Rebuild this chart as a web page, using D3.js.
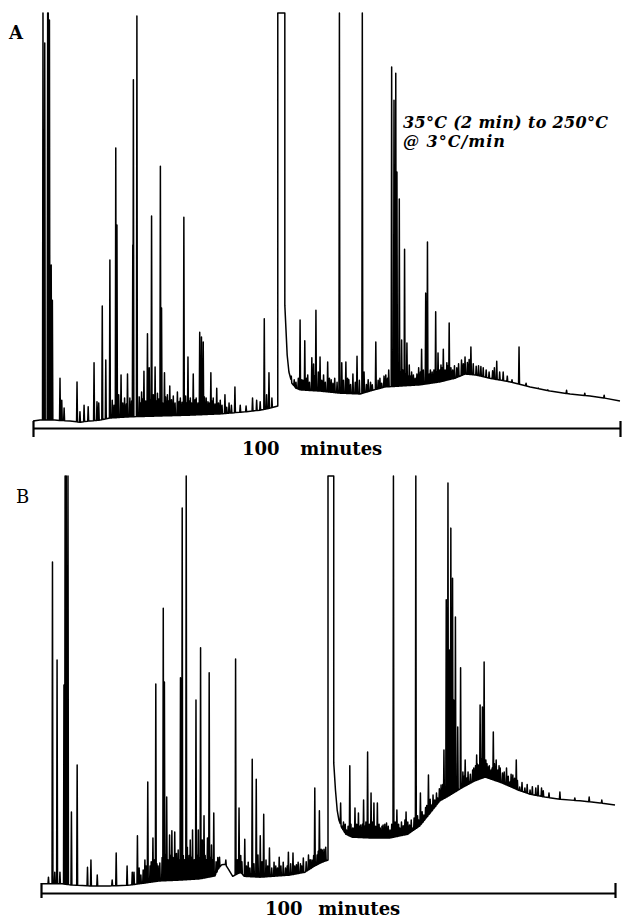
<!DOCTYPE html>
<html><head><meta charset="utf-8">
<script src="https://cdn.jsdelivr.net/npm/d3@7"></script>
<style>html,body{margin:0;padding:0;background:#fff}</style>
</head><body>
<svg id="chart" width="622" height="920"></svg>
<script>
// ---- data ----
const timeRange = [0, 100];          // minutes
const signalRange = [0, 100];        // % full scale
const axisTicks = [0, 100];
const axisLabel = ["100", "minutes"];
const panelLabels = ["A", "B"];
const tempProgram = ["35°C (2 min) to 250°C", "@ 3°C/min"];

// panel A : baseline [time, signal]
const baselineA = [
[0,1.7],[1.2,1.9],[3.7,1.9],[6.3,1.7],[8.0,1.4],[9.7,1.7],[11.4,1.9],[13.1,2.4],[16.5,2.7],[21.6,2.9],[26.7,3.1],[31.9,3.4],[36.1,3.9],[38.7,4.3],[40.4,4.8],[41.7,5.3],
[42.9,29.6],[43.1,23.6],[43.3,17.6],[43.6,13.5],[44.1,10.8],[44.8,9.6],[45.5,9.2],[48.9,8.9],[52.3,8.4],[55.7,8.2],[57.4,8.9],[60.0,9.9],[62.5,10.1],[65.9,10.4],[69.3,11.1],[71.9,12.0],[73.6,13.0],[75.3,12.8],[77.8,12.0],[81.3,11.1],[84.7,9.9],[88.1,8.9],[91.5,8.2],[94.9,7.7],[97.4,7.2],[100,6.5]
];
// panel A : peaks [retention time, signal at apex]
const peaksA = [
[1.7,100],[2.0,92.8],[2.5,100],[2.6,100],[2.8,98.3],[3.1,39.3],[3.3,30.8],[4.6,12.0],[4.9,6.7],[5.3,4.8],[7.5,11.1],[8.0,3.9],[8.7,5.5],[9.4,5.1],[10.4,15.7],[10.9,6.3],[11.2,6.0],[11.8,29.4],[12.4,16.4],[13.1,40.5],[13.5,6.7],[13.8,5.5],[14.1,67.5],[14.3,48.9],[14.6,8.0],[15.0,12.8],[15.3,6.0],[15.6,7.2],[15.9,5.8],[16.1,13.0],[16.5,7.2],[16.8,6.5],[17.0,44.1],[17.1,83.9],[17.7,99.3],[18.1,7.5],[18.3,6.0],[18.5,8.7],[18.7,7.0],[18.9,13.7],[19.2,6.5],[19.5,22.7],[19.8,14.5],[20.0,6.8],[20.2,51.1],[20.5,8.0],[20.8,14.7],[21.0,6.5],[21.2,8.4],[21.4,7.0],[21.7,63.1],[21.9,28.9],[22.1,6.0],[22.4,13.3],[22.6,7.5],[22.9,8.0],[23.1,6.5],[23.3,10.1],[23.6,6.8],[23.9,7.7],[24.2,6.0],[24.6,8.7],[24.9,6.4],[25.1,7.2],[25.4,6.2],[25.7,50.8],[26.0,7.7],[26.2,6.0],[26.4,17.1],[26.6,6.5],[26.8,7.2],[27.0,6.0],[27.3,13.0],[27.6,6.8],[27.8,7.2],[28.1,6.0],[28.4,23.1],[28.7,21.9],[29.0,20.7],[29.2,7.5],[29.5,7.2],[29.8,6.3],[30.0,6.0],[30.3,13.3],[30.5,6.5],[30.7,7.2],[31.0,5.8],[31.3,9.6],[31.6,6.0],[31.9,6.7],[32.2,5.5],[32.7,8.0],[33.0,5.0],[33.4,6.0],[33.8,5.5],[34.4,9.9],[35.3,5.5],[36.3,5.3],[37.4,7.2],[38.1,6.7],[38.7,6.3],[39.4,26.3],[39.8,8.0],[40.2,13.3],[40.7,7.2],
[44.0,12.5],[44.5,11.6],[44.8,11.0],[45.2,12.0],[45.5,26.0],[45.8,11.6],[46.0,11.5],[46.3,21.0],[46.6,12.0],[46.8,12.8],[47.1,11.0],[47.5,16.9],[47.8,15.4],[48.0,12.5],[48.2,28.4],[48.6,13.5],[48.9,17.1],[49.2,11.5],[49.5,12.8],[49.8,11.0],[50.2,15.9],[50.5,12.0],[50.8,11.6],[51.1,10.8],[51.4,12.0],[51.8,11.0],[52.2,100],[52.6,15.7],[52.9,11.5],[53.3,15.9],[53.6,12.0],[53.8,11.6],[54.1,10.5],[54.5,13.0],[54.9,11.0],[55.2,17.3],[55.6,11.5],[56.1,100],[56.4,13.5],[56.8,10.5],[57.1,11.6],[57.5,11.0],[57.8,10.4],[58.4,20.7],[58.8,11.5],[59.1,12.0],[59.4,10.8],[59.8,12.5],[60.1,12.8],[60.4,12.0],[60.6,14.0],[61.1,87.0],[61.3,14.0],[61.5,79.0],[61.8,85.5],[61.9,15.0],[62.0,61.7],[62.2,14.5],[62.4,55.2],[62.6,13.5],[62.8,21.2],[63.0,14.0],[63.3,43.1],[63.5,13.0],[63.7,20.5],[63.9,12.5],[64.1,15.2],[64.3,12.5],[64.5,13.5],[64.8,12.8],[65.1,12.0],[65.4,13.0],[65.7,14.5],[66.0,13.5],[66.2,19.0],[66.5,14.0],[66.9,32.5],[67.0,14.5],[67.2,44.8],[67.5,13.0],[67.7,14.0],[68.0,13.5],[68.3,14.0],[68.6,28.0],[68.8,13.5],[69.0,18.1],[69.3,14.0],[69.5,15.2],[69.7,14.5],[69.9,19.0],[70.2,14.0],[70.5,15.7],[70.7,15.0],[70.9,25.3],[71.2,14.5],[71.5,14.0],[71.8,15.0],[72.2,14.5],[72.5,15.5],[73.0,16.4],[73.3,15.5],[73.6,17.1],[74.0,15.8],[74.3,16.5],[74.6,19.5],[75.0,15.5],[75.5,14.9],[75.9,15.0],[76.3,14.8],[76.7,14.5],[77.2,14.0],[77.7,13.5],[78.3,13.8],[78.6,14.5],[79.0,16.1],[79.5,13.5],[80.1,13.5],[80.8,12.5],[81.6,11.6],[82.8,19.5],[84.0,10.8],[86.1,9.6],[87.7,9.2],[90.9,9.1],[94.0,8.4],[97.3,7.9]
];
// solvent peak (off scale, flat topped): [start, end]
const solventA = [41.7, 42.9];

// panel B
const baselineB = [
[0,2.2],[1.6,2.2],[3.7,2.2],[5.4,1.9],[8.5,1.7],[12.0,1.7],[15.5,1.9],[18.1,2.4],[20.7,2.9],[24.2,3.1],[27.7,3.4],[30.3,4.1],[30.9,5.8],[31.5,6.8],[32.1,6.9],[32.7,5.6],[33.4,4.0],[34.2,4.6],[34.8,4.9],[35.4,4.0],[38.2,3.8],[43.4,4.3],[46.0,5.0],[47.7,6.5],[49.0,7.4],[50.0,7.9],
[51.0,31.2],[51.3,24.7],[51.6,19.9],[51.9,17.5],[52.4,15.6],[53.1,14.1],[54.2,13.4],[57.3,13.2],[60.8,13.2],[63.9,14.1],[66.0,16.1],[67.8,19.2],[69.5,22.1],[71.3,23.5],[73.3,25.2],[75.6,26.9],[77.4,27.8],[80.3,26.4],[83.1,24.7],[85.2,23.7],[87.8,23.0],[90.4,22.5],[93.9,22.1],[97.4,21.6],[100,21.1]
];
const peaksB = [
[1.3,3.8],[2.0,79.4],[2.4,5.0],[2.8,55.9],[3.3,5.0],[4.0,49.9],[4.2,100],[4.4,100],[4.7,100],[5.3,19.4],[6.3,30.7],[8.1,6.2],[8.7,7.9],[9.8,4.3],[12.4,3.1],[13.1,9.6],[15.0,6.5],[15.9,5.0],[16.2,5.0],[16.8,13.7],[17.1,6.0],[17.4,4.3],[17.8,5.5],[18.1,7.9],[18.3,6.5],[18.6,26.6],[19.0,6.5],[19.2,7.5],[19.5,13.2],[19.8,8.0],[20.0,50.1],[20.2,7.0],[20.4,6.5],[20.7,7.2],[21.1,8.5],[21.3,68.3],[21.5,50.6],[21.7,9.0],[21.9,23.0],[22.1,8.0],[22.4,13.9],[22.6,9.0],[22.8,14.9],[23.0,8.5],[23.3,14.6],[23.6,9.5],[23.9,10.3],[24.0,8.0],[24.3,51.6],[24.6,92.3],[24.8,9.0],[25.0,8.0],[25.3,100],[25.5,11.0],[25.8,9.0],[26.0,12.7],[26.2,8.5],[26.4,15.1],[26.7,8.0],[27.0,46.3],[27.2,9.0],[27.4,15.1],[27.6,8.5],[27.8,58.8],[28.0,8.0],[28.1,12.7],[28.4,18.5],[28.6,9.0],[28.8,8.0],[29.0,13.2],[29.3,52.8],[29.5,8.5],[29.7,11.5],[29.9,8.0],[30.1,19.2],[30.5,7.5],[30.8,8.5],[31.1,8.6],[32.2,7.9],[33.9,56.1],[34.2,8.0],[34.5,20.4],[34.8,9.0],[35.0,7.5],[35.5,12.9],[35.8,6.5],[36.1,7.4],[36.4,6.0],[36.8,32.1],[37.1,7.0],[37.5,27.3],[37.8,9.1],[38.2,13.7],[38.5,7.5],[38.8,18.9],[39.2,7.9],[39.5,6.5],[39.8,10.8],[40.2,6.0],[40.6,7.4],[40.9,6.5],[41.2,6.0],[41.5,8.6],[41.8,6.5],[42.2,7.4],[42.6,6.0],[42.9,6.5],[43.1,9.8],[43.5,7.0],[43.9,9.6],[44.2,6.5],[44.5,6.8],[44.8,7.4],[45.2,7.0],[45.4,6.5],[45.7,8.4],[46.2,7.5],[46.6,9.1],[46.9,8.0],[47.2,7.9],[47.5,9.0],[47.7,25.2],[48.1,9.1],[48.3,10.0],[48.5,19.7],[48.8,10.5],[49.0,10.3],[49.3,10.5],[49.6,11.0],
[52.2,21.6],[52.5,16.0],[52.7,17.0],[53.0,16.5],[53.2,15.1],[53.5,16.0],[53.8,30.5],[54.0,16.5],[54.3,15.6],[54.5,15.5],[54.7,20.4],[55.0,16.5],[55.3,19.2],[55.5,16.0],[55.7,16.3],[56.0,16.5],[56.2,22.3],[56.4,16.0],[56.6,17.0],[56.9,33.8],[57.2,16.5],[57.5,24.0],[57.8,17.0],[58.0,21.6],[58.3,16.0],[58.6,21.6],[58.9,16.5],[59.1,15.6],[59.4,16.0],[59.6,16.3],[59.9,16.5],[60.2,16.8],[60.5,16.0],[60.8,15.1],[61.1,16.5],[61.4,100],[61.7,17.0],[62.0,19.9],[62.3,16.5],[62.5,15.6],[62.8,17.0],[63.1,16.1],[63.4,17.5],[63.6,19.4],[63.9,17.0],[64.2,16.3],[64.5,17.5],[64.8,15.6],[65.0,18.0],[65.3,100],[65.6,18.5],[65.8,17.5],[66.1,24.0],[66.4,19.5],[66.7,18.7],[67.0,20.5],[67.2,21.0],[67.5,28.3],[67.8,22.5],[68.0,21.1],[68.3,23.5],[68.6,22.3],[68.9,24.0],[69.1,22.8],[69.4,25.0],[69.7,25.9],[70.0,26.0],[70.2,34.3],[70.6,70.3],[70.9,98.3],[71.2,58.3],[71.4,87.5],[71.7,75.5],[71.9,46.3],[72.2,66.2],[72.6,39.8],[73.1,54.0],[73.5,29.0],[73.7,28.0],[73.9,31.9],[74.2,27.6],[74.4,29.0],[74.6,26.6],[74.8,28.5],[75.0,26.6],[75.2,29.5],[75.4,30.0],[75.7,30.5],[75.9,33.1],[76.0,31.0],[76.2,30.7],[76.5,45.1],[76.7,32.0],[76.9,44.6],[77.2,55.4],[77.5,31.9],[77.7,31.0],[77.9,30.2],[78.1,30.5],[78.4,29.5],[78.6,30.0],[78.8,38.6],[79.0,31.0],[79.3,31.9],[79.6,29.5],[79.8,30.5],[80.0,30.0],[80.4,28.8],[80.7,29.0],[81.1,30.0],[81.4,28.0],[81.7,26.6],[81.9,28.5],[82.2,28.3],[82.5,27.5],[82.8,31.9],[83.0,27.0],[83.4,25.4],[83.8,26.5],[84.3,25.2],[84.7,26.0],[85.2,24.7],[85.6,25.5],[86.2,25.2],[86.6,25.8],[87.2,25.2],[87.5,24.5],[88.5,24.0],[90.4,24.2],[93.0,22.8],[95.5,23.0],[97.7,22.3]
];
const solventB = [50.0, 51.0];

// ---- drawing ----
const svg = d3.select('#chart');
const peakHalfWidth = 0.08;

function drawPanel(cfg) {
  const g = svg.append('g');
  const x = d3.scaleLinear().domain(timeRange).range(cfg.xRange);
  const y = d3.scaleLinear().domain(signalRange).range(cfg.yRange);
  const baseAt = d3.scaleLinear().domain(cfg.baseline.map(d => d[0])).range(cfg.baseline.map(d => d[1])).clamp(true);
  const [s0, s1] = cfg.solvent;
  const top = signalRange[1];
  const events = [];
  cfg.baseline.forEach(d => { if (d[0] < s0 || d[0] > s1) events.push({t: d[0], pts: [d]}); });
  cfg.peaks.forEach(p => {
    const w = peakHalfWidth;
    events.push({t: p[0], pts: [[p[0] - w, baseAt(p[0] - w)], p, [p[0] + w, baseAt(p[0] + w)]]});
  });
  events.push({t: s0, pts: [[s0, baseAt(s0)], [s0, top], [s1, top], [s1, baseAt(s1)]]});
  events.sort((a, b) => a.t - b.t);
  const pts = events.flatMap(e => e.pts);

  const line = d3.line().x(d => x(d[0])).y(d => y(d[1]));
  g.append('path').attr('d', line(pts))
    .attr('fill', 'none').attr('stroke', '#000').attr('stroke-width', 1.5)
    .attr('stroke-linejoin', 'round');

  const axis = d3.axisBottom(x).tickValues(axisTicks).tickFormat('').tickSizeOuter(0);
  const ag = g.append('g').attr('transform', `translate(0,${cfg.axisY})`).call(axis);
  ag.select('.domain').attr('stroke', '#000').attr('stroke-width', 2);
  ag.selectAll('.tick line').attr('y1', cfg.tickY[0]).attr('y2', cfg.tickY[1])
    .attr('stroke', '#000').attr('stroke-width', 2.2);

  const lab = g.append('text').attr('y', cfg.labelY)
    .attr('font-family', 'DejaVu Serif').attr('font-weight', 'bold').attr('font-size', 18).attr('fill', '#000');
  lab.append('tspan').attr('x', cfg.labelX[0]).text(axisLabel[0]);
  lab.append('tspan').attr('x', cfg.labelX[1]).text(' ' + axisLabel[1]);

  g.append('text').attr('x', cfg.panelPos[0]).attr('y', cfg.panelPos[1])
    .attr('font-family', 'DejaVu Serif').attr('font-weight', cfg.panelWeight)
    .attr('font-size', 18).attr('fill', '#000').text(cfg.name);
}

drawPanel({name: panelLabels[0], baseline: baselineA, peaks: peaksA, solvent: solventA,
  xRange: [33, 620], yRange: [428, 13], axisY: 428, tickY: [-7, 9],
  labelY: 455, labelX: [242, 294], panelPos: [9, 39], panelWeight: 'bold'});
drawPanel({name: panelLabels[1], baseline: baselineB, peaks: peaksB, solvent: solventB,
  xRange: [41, 615], yRange: [893, 476], axisY: 893, tickY: [-10, 5],
  labelY: 915, labelX: [265, 312], panelPos: [16, 503], panelWeight: 'normal'});

// temperature program annotation (panel A)
const ann = svg.append('text').attr('font-family', 'DejaVu Serif').attr('font-weight', 'bold')
  .attr('font-style', 'italic').attr('font-size', 16).attr('fill', '#000');
ann.append('tspan').attr('x', 403).attr('y', 128).attr('textLength', 205).attr('lengthAdjust', 'spacing').text(tempProgram[0]);
ann.append('tspan').attr('x', 403).attr('y', 147).attr('textLength', 102).attr('lengthAdjust', 'spacing').text(tempProgram[1]);
</script>
</body></html>
